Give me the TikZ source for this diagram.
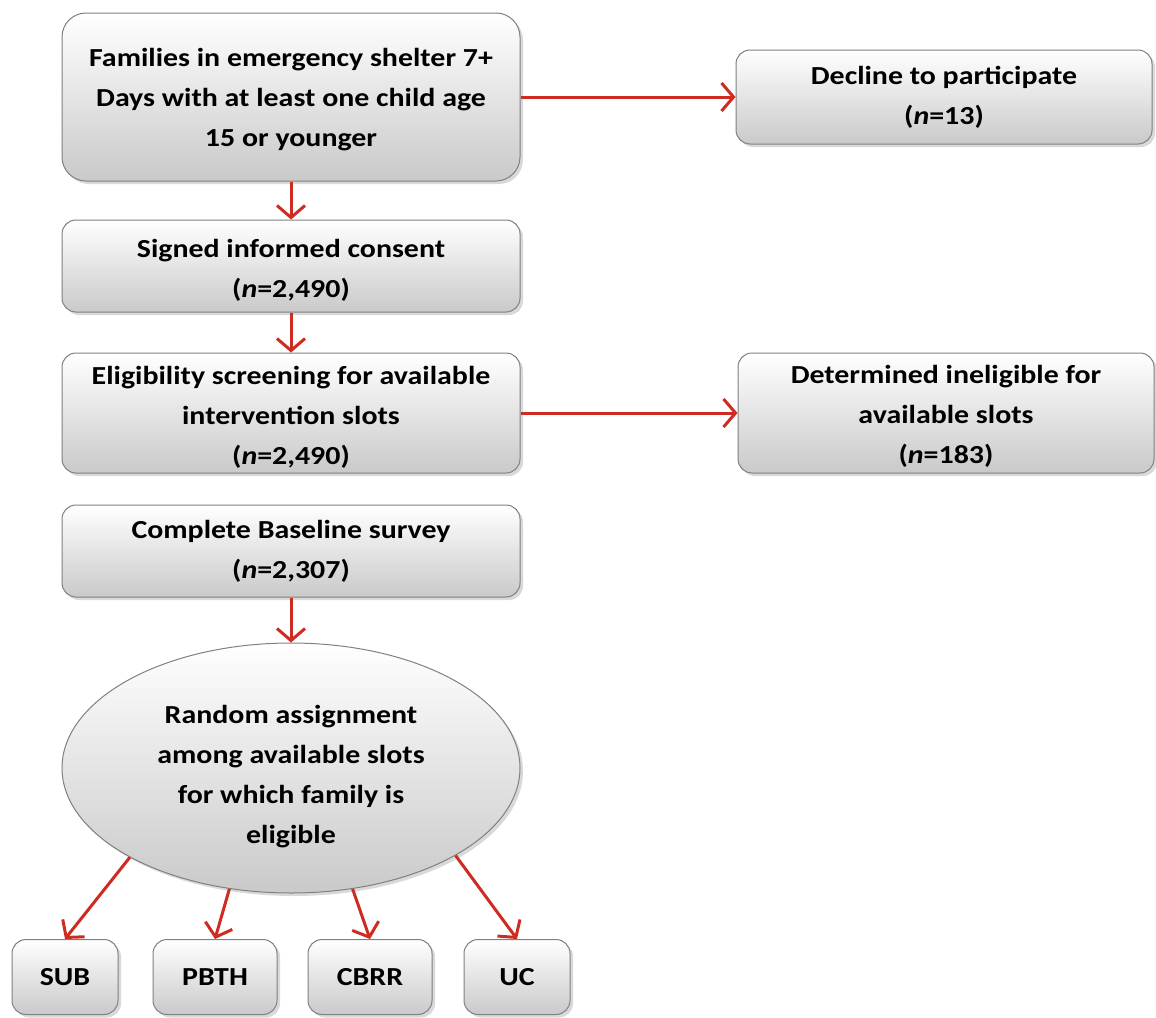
\documentclass[tikz,border=0pt]{standalone}
\usepackage{fontspec}
\setmainfont[FakeStretch=1.15]{Carlito}
\usetikzlibrary{shapes.geometric,shadows,arrows.meta}

\definecolor{arrowred}{RGB}{206,44,34}
\definecolor{boxline}{RGB}{128,128,128}

\tikzset{
	box/.style={draw=boxline, line width=0.5pt, rounded corners=7pt,
		top color=white, bottom color=gray!42,
		drop shadow={opacity=0.3, shadow xshift=1.5pt, shadow yshift=-1.5pt},
		align=center, inner sep=2pt,
		font=\fontsize{13}{20}\selectfont\bfseries},
	flow/.style={draw=arrowred, line width=1.5pt,
		-{Straight Barb[length=6pt,width=14pt,line width=1.5pt]}}
}

\begin{document}
\begin{tikzpicture}[x=0.5pt,y=-0.5pt]
	\useasboundingbox (0,0) rectangle (1156,1017);
	% main column
	\node[box, minimum width=229pt, minimum height=84pt, rounded corners=12pt] (fam) at (291,97)
		{\rule{0pt}{12pt}Families in emergency shelter 7+\\Days with at least one child age\\15 or younger};
	\node[box, minimum width=229pt, minimum height=46pt] (consent) at (291,266)
		{\rule{0pt}{13pt}Signed informed consent\\(\textit{n}=2,490)};
	\node[box, minimum width=229pt, minimum height=60pt] (screen) at (291,413)
		{\rule{0pt}{13pt}Eligibility screening for available\\intervention slots\\(\textit{n}=2,490)};
	\node[box, minimum width=229pt, minimum height=46pt] (base) at (291,551)
		{Complete Baseline survey\\(\textit{n}=2,307)};
	\node[box, ellipse, rounded corners=0pt, minimum width=229pt, minimum height=125pt] (rand) at (291,768)
		{\rule{0pt}{18pt}Random assignment\\among available slots\\for which family is\\eligible};
	% side boxes
	\node[box, minimum width=208pt, minimum height=47pt] (decline) at (944,97)
		{Decline to participate\\(\textit{n}=13)};
	\node[box, minimum width=208pt, minimum height=60pt] (inelig) at (946,413)
		{\rule{0pt}{12pt}Determined ineligible for\\available slots\\(\textit{n}=183)};
	% arms
	\node[box, minimum width=53pt, minimum height=37.5pt] (sub) at (65,977) {SUB};
	\node[box, minimum width=62pt, minimum height=37.5pt] (pbth) at (215,977) {PBTH};
	\node[box, minimum width=62pt, minimum height=37.5pt] (cbrr) at (370,977) {CBRR};
	\node[box, minimum width=53pt, minimum height=37.5pt] (uc) at (517,977) {UC};

	\draw[flow] (fam) -- (consent);
	\draw[flow] (consent) -- (screen);
	\draw[flow] (base) -- (rand);
	\draw[flow] (fam) -- (decline);
	\draw[flow] (screen) -- (inelig);
	% random assignment
	\draw[flow] (rand.209) -- (sub.north);
	\draw[flow] (rand.243) -- (pbth.north);
	\draw[flow] (rand.297) -- (cbrr.north);
	\draw[flow] (rand.332) -- (uc.north);
\end{tikzpicture}
\end{document}
